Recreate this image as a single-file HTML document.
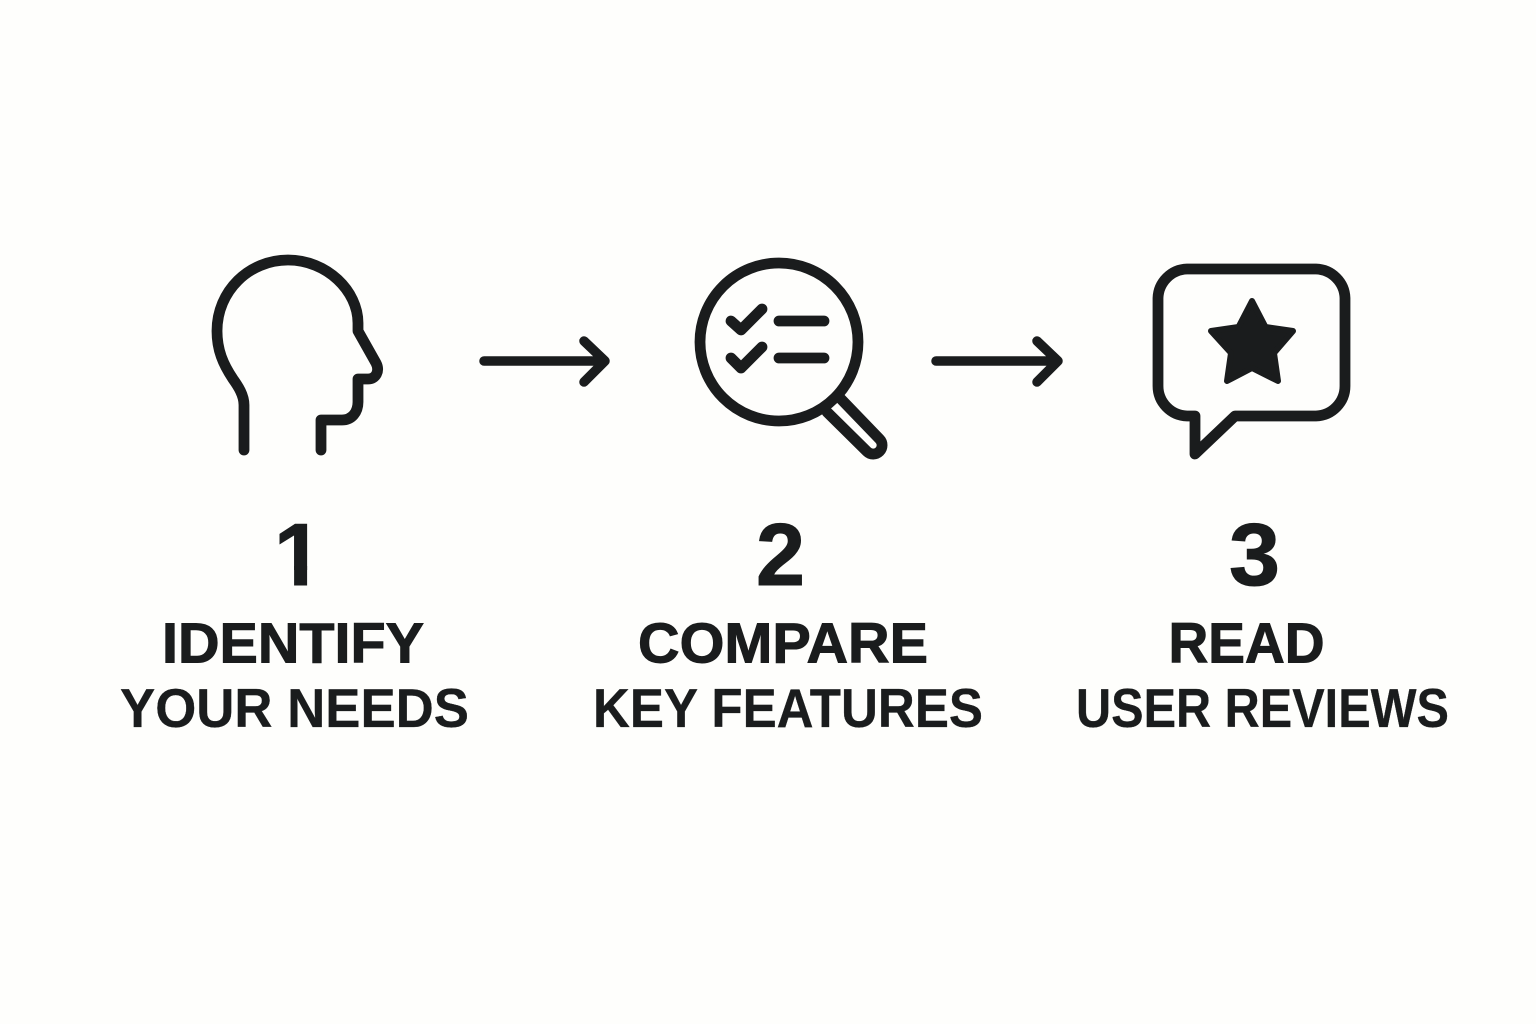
<!DOCTYPE html>
<html lang="en">
<head>
<meta charset="utf-8">
<title>Three steps</title>
<style>
html,body{margin:0;padding:0;background:#fefefc;}
svg{display:block;}
text{font-family:"Liberation Sans",Arial,sans-serif;font-weight:700;fill:#1a1c1d;}
.s{fill:none;stroke:#1a1c1d;stroke-width:10.8;stroke-linecap:round;stroke-linejoin:round;}
.a{fill:none;stroke:#1a1c1d;stroke-width:9.5;stroke-linecap:round;stroke-linejoin:round;}
.t1{stroke:#1a1c1d;stroke-width:1px;}
.t2{stroke:#1a1c1d;stroke-width:0.3px;}
</style>
</head>
<body>
<svg width="1536" height="1024" viewBox="0 0 1536 1024" xmlns="http://www.w3.org/2000/svg">
<defs>
<clipPath id="one">
<rect x="265" y="505" width="60" height="65"/>
</clipPath>
</defs>
<rect width="1536" height="1024" fill="#fefefc"/>

<!-- Head -->
<path class="s" d="M244 450 V405 C244 395 238 386 233 379 C223 364 217 350 217 331 C217 291 249 260 288 260 C327 260 358 291 358 323 V331 L376 363 C380 371 376 379 368 379 H358 V402 C358 412 352 420 342 420 H321 V450"/>

<!-- Arrow 1 -->
<path class="a" d="M484 361 H605 M584 341 L605 361 L584 382"/>

<!-- Magnifier -->
<circle class="s" cx="779" cy="342" r="79"/>
<path class="s" d="M840 398 L879.500 439 A8.800 8.800 0 0 1 867 451.500 L827 412"/>
<path class="s" d="M731 321 L741 330 L762 309 M731 358 L741 368 L762 347 M779 321 H824 M779 358 H824"/>

<!-- Arrow 2 -->
<path class="a" d="M936 361 H1058 M1037 341 L1058 361 L1037 382"/>

<!-- Speech bubble -->
<path class="s" d="M1187 416 H1195 V454 L1235 416 H1316 A30 30 0 0 0 1345 386 V298 A30 30 0 0 0 1316 269 H1187 A30 30 0 0 0 1158 298 V386 A30 30 0 0 0 1187 416 Z"/>
<path d="M1252 301 L1265.500 327 L1293 331 L1274 353 L1278 381 L1252 368 L1227 381 L1231 353 L1211 331 L1238.500 327 Z" fill="#1a1c1d" stroke="#1a1c1d" stroke-width="6" stroke-linejoin="round"/>

<!-- Numbers -->
<text x="274" y="585" font-size="88" class="t1" clip-path="url(#one)">1</text>
<rect x="294.100" y="566" width="13" height="19.500" fill="#1a1c1d"/>
<text x="756" y="585" font-size="88" class="t1" textLength="49" lengthAdjust="spacingAndGlyphs">2</text>
<text x="1229" y="585" font-size="88" class="t1" textLength="51" lengthAdjust="spacingAndGlyphs">3</text>

<!-- Labels -->
<text x="162" y="662.500" font-size="57" class="t1" textLength="262" lengthAdjust="spacingAndGlyphs">IDENTIFY</text>
<text x="120" y="727" font-size="55" class="t2" textLength="349" lengthAdjust="spacingAndGlyphs">YOUR NEEDS</text>

<text x="638" y="662.500" font-size="57" class="t1" textLength="290" lengthAdjust="spacingAndGlyphs">COMPARE</text>
<text x="593" y="727" font-size="55" class="t2" textLength="390" lengthAdjust="spacingAndGlyphs">KEY FEATURES</text>

<text x="1168.500" y="662.500" font-size="57" class="t1" textLength="156" lengthAdjust="spacingAndGlyphs">READ</text>
<text x="1076" y="727" font-size="55" class="t2" textLength="373" lengthAdjust="spacingAndGlyphs">USER REVIEWS</text>
</svg>
</body>
</html>
